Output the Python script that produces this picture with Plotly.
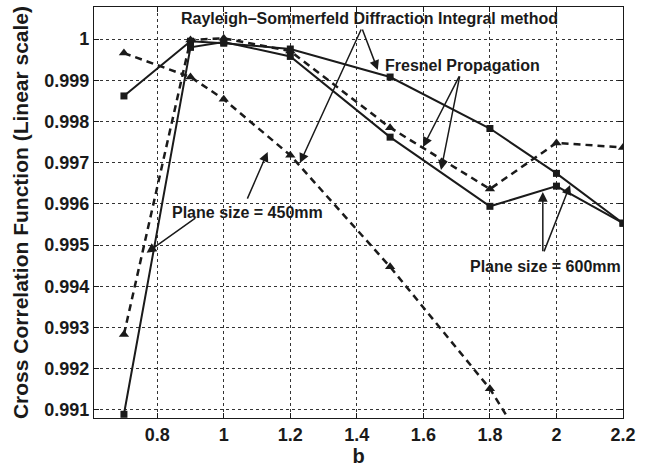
import plotly.graph_objects as go

# Normalised distance parameter
b = [0.7, 0.9, 1.0, 1.2, 1.5, 1.8, 2.0, 2.2]

# Cross correlation values for each propagation model / plane size
rs_600 = [0.99862, 0.99995, 0.99990, 0.99976, 0.99908, 0.99783, 0.99674, 0.99553]
fr_600 = [0.99089, 0.99980, 0.99993, 0.99958, 0.99762, 0.99594, 0.99643, 0.99553]
fr_450 = [0.99283, 0.99998, 1.00002, 0.99971, 0.99785, 0.99636, 0.99748, 0.99737]
rs_450 = [0.99966, 0.99908, 0.99854, 0.99718, 0.99447, 0.99151, 0.98890, 0.98620]

x_ticks = [0.8, 1.0, 1.2, 1.4, 1.6, 1.8, 2.0, 2.2]
x_tick_text = ["0.8", "1", "1.2", "1.4", "1.6", "1.8", "2", "2.2"]
y_ticks = [0.991, 0.992, 0.993, 0.994, 0.995, 0.996, 0.997, 0.998, 0.999, 1.0]
y_tick_text = ["0.991", "0.992", "0.993", "0.994", "0.995", "0.996",
               "0.997", "0.998", "0.999", "1"]

FONT = "Liberation Sans, Arial, sans-serif"
INK = "#1a1a1a"

fig = go.Figure()

def add_series(y, dash, symbol, msize, width):
    fig.add_trace(go.Scatter(
        x=b, y=y, mode="lines+markers",
        line=dict(color=INK, width=width, dash=dash),
        marker=dict(symbol=symbol, size=msize, color=INK),
        showlegend=False,
    ))

add_series(rs_600, "solid", "square", 7, 2)
add_series(fr_600, "solid", "square", 7, 2)
add_series(fr_450, "7px,5px", "triangle-up", 9, 2.5)
add_series(rs_450, "7px,5px", "triangle-up", 9, 2.5)

annotations = []

def label(text, x, y):
    annotations.append(dict(
        text=text, x=x, y=y, xref="x", yref="y", showarrow=False,
        font=dict(family=FONT, size=16, color=INK, weight="bold"),
        xanchor="center", yanchor="middle",
    ))

def arrow(x0, y0, x1, y1):
    annotations.append(dict(
        text="", x=x1, y=y1, ax=x0, ay=y0, xref="x", yref="y",
        axref="x", ayref="y", showarrow=True, arrowhead=2,
        arrowsize=1.3, arrowwidth=1.5, arrowcolor=INK, standoff=0,
    ))

label("Rayleigh\u2013Sommerfeld Diffraction Integral method", 1.437, 1.00051)
arrow(1.415, 1.00027, 1.463, 0.99925)
arrow(1.415, 1.00027, 1.229, 0.99699)

label("Fresnel Propagation", 1.718, 0.99935)
arrow(1.710, 0.99913, 1.599, 0.99738)
arrow(1.710, 0.99913, 1.653, 0.99682)

label("Plane size = 450mm", 1.072, 0.99579)
arrow(1.069, 0.99609, 1.132, 0.99726)
arrow(0.919, 0.99568, 0.768, 0.99481)

label("Plane size = 600mm", 1.966, 0.99449)
arrow(1.959, 0.99481, 1.959, 0.99629)
arrow(1.961, 0.99481, 2.041, 0.99646)

axis_common = dict(
    showgrid=True, gridcolor="#333333", griddash="dot", gridwidth=1,
    showline=True, linecolor=INK, linewidth=1.2, mirror="ticks",
    ticks="inside", ticklen=5, tickcolor=INK, tickwidth=1,
    zeroline=False,
    tickfont=dict(family=FONT, size=18, color=INK, weight="bold"),
)

fig.update_layout(
    width=654, height=470,
    margin=dict(l=94, r=31, t=7, b=52),
    paper_bgcolor="white", plot_bgcolor="white",
    annotations=annotations,
    xaxis=dict(
        range=[0.61, 2.2], tickvals=x_ticks, ticktext=x_tick_text,
        title=dict(text="b", standoff=2,
                   font=dict(family=FONT, size=20, color=INK, weight="bold")),
        **axis_common,
    ),
    yaxis=dict(
        range=[0.9908, 1.00078], tickvals=y_ticks, ticktext=y_tick_text,
        title=dict(text="Cross Correlation Function (Linear scale)", standoff=9,
                   font=dict(family=FONT, size=21, color=INK, weight="bold")),
        **axis_common,
    ),
)

fig.write_html("out.html")
